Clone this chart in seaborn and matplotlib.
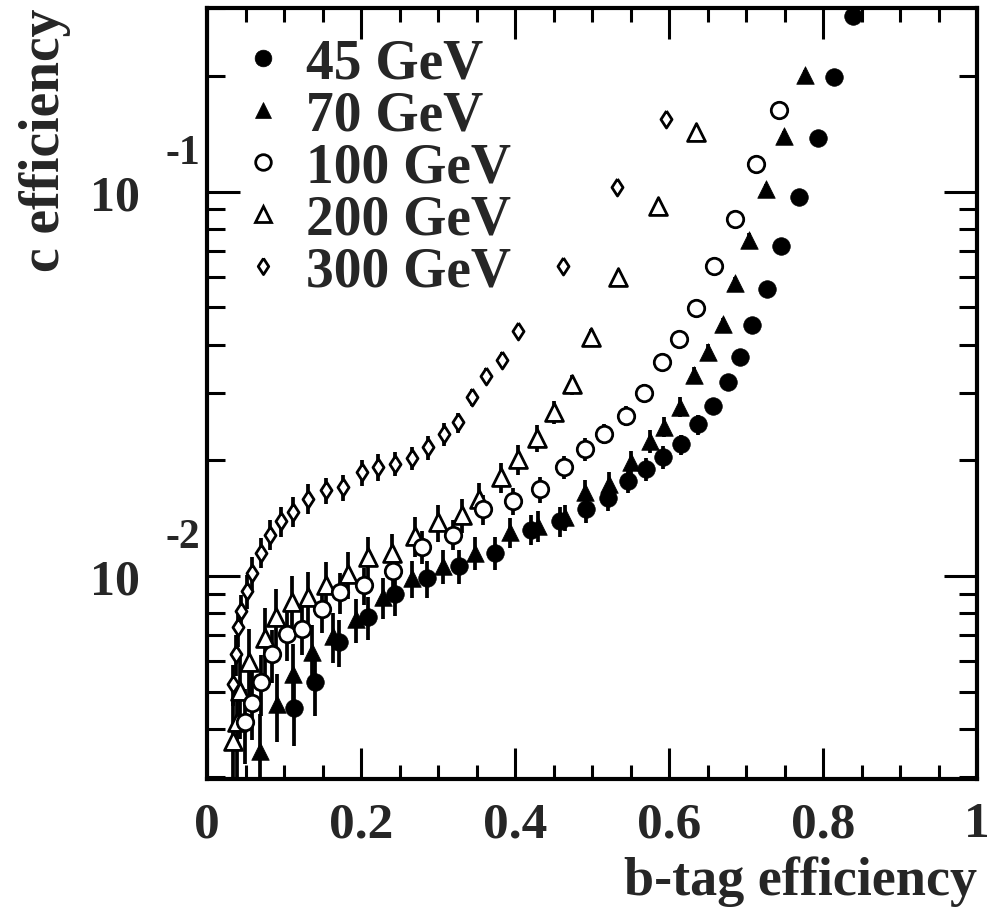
import matplotlib
matplotlib.use("Agg")
import matplotlib.pyplot as plt
import matplotlib.transforms as mtransforms
from matplotlib.lines import Line2D
from matplotlib.ticker import MultipleLocator, FixedLocator, LogLocator, NullFormatter
import numpy as np
import seaborn as sns

# 45 GeV - filled circles
x45 = [0.113, 0.140, 0.171, 0.209, 0.244, 0.286, 0.327, 0.374, 0.421, 0.458, 0.492, 0.521, 0.547,
       0.570, 0.592, 0.616, 0.638, 0.657, 0.677, 0.692, 0.708, 0.727, 0.745, 0.769, 0.794, 0.814, 0.839]
y45 = [0.00452, 0.00528, 0.00673, 0.00782, 0.00896, 0.00986, 0.0106, 0.0115, 0.0132, 0.0139, 0.0149,
       0.0160, 0.0177, 0.0190, 0.0204, 0.0220, 0.0248, 0.0277, 0.0319, 0.0371, 0.0449, 0.0558, 0.0722,
       0.0969, 0.138, 0.199, 0.287]
r45 = [0.20, 0.18, 0.14, 0.13, 0.12, 0.11, 0.10, 0.10, 0.09, 0.09, 0.08, 0.08, 0.07, 0.07, 0.07, 0.06,
       0.06, 0.05, 0.05, 0.05, 0.04, 0.04, 0.03, 0.03, 0.03, 0.03, 0.03]

# 70 GeV - filled triangles
x70 = [0.069, 0.091, 0.112, 0.136, 0.163, 0.194, 0.228, 0.266, 0.306, 0.348, 0.393, 0.430, 0.465,
       0.491, 0.522, 0.551, 0.575, 0.593, 0.614, 0.632, 0.651, 0.670, 0.686, 0.704, 0.726, 0.749, 0.777]
y70 = [0.00350, 0.00463, 0.00554, 0.00632, 0.00697, 0.00771, 0.00880, 0.00986, 0.0106, 0.0115, 0.0130,
       0.0135, 0.0142, 0.0165, 0.0173, 0.0198, 0.0224, 0.0244, 0.0275, 0.0333, 0.0382, 0.0452, 0.0578,
       0.075, 0.1016, 0.140, 0.201]
r70 = [0.25, 0.20, 0.20, 0.18, 0.15, 0.13, 0.12, 0.11, 0.10, 0.10, 0.09, 0.09, 0.08, 0.08, 0.08, 0.07,
       0.07, 0.06, 0.06, 0.05, 0.05, 0.04, 0.04, 0.04, 0.03, 0.03, 0.03]

# 100 GeV - open circles
x100 = [0.049, 0.058, 0.070, 0.084, 0.104, 0.124, 0.149, 0.173, 0.204, 0.241, 0.279, 0.320, 0.359,
        0.398, 0.432, 0.464, 0.491, 0.516, 0.544, 0.568, 0.591, 0.613, 0.635, 0.658, 0.686, 0.713, 0.743]
y100 = [0.00416, 0.00468, 0.00528, 0.00625, 0.00705, 0.00726, 0.00818, 0.00906, 0.00946, 0.0103, 0.0119,
        0.0128, 0.0149, 0.0157, 0.0168, 0.0192, 0.0214, 0.0234, 0.0261, 0.0300, 0.0360, 0.0414, 0.0497,
        0.0641, 0.0849, 0.118, 0.163]
r100 = [0.22, 0.20, 0.18, 0.16, 0.15, 0.14, 0.13, 0.12, 0.11, 0.10, 0.10, 0.09, 0.09, 0.08, 0.08, 0.07,
        0.07, 0.06, 0.06, 0.05, 0.05, 0.04, 0.04, 0.04, 0.03, 0.03, 0.03]

# 200 GeV - open triangles
x200 = [0.034, 0.039, 0.043, 0.055, 0.075, 0.089, 0.110, 0.131, 0.155, 0.183, 0.209, 0.240, 0.270,
        0.300, 0.331, 0.353, 0.382, 0.404, 0.428, 0.450, 0.474, 0.499, 0.534, 0.586, 0.635]
y200 = [0.00371, 0.00416, 0.00501, 0.00597, 0.00689, 0.00782, 0.00854, 0.00880, 0.00946, 0.0101, 0.0112,
        0.0115, 0.0127, 0.0138, 0.0144, 0.0159, 0.0181, 0.0201, 0.0229, 0.0267, 0.0315, 0.0418, 0.060,
        0.0918, 0.143]
r200 = [0.30, 0.28, 0.25, 0.22, 0.20, 0.18, 0.17, 0.16, 0.15, 0.14, 0.13, 0.12, 0.12, 0.11, 0.10, 0.10,
        0.09, 0.09, 0.08, 0.07, 0.06, 0.05, 0.04, 0.03, 0.03]

# 300 GeV - open diamonds
x300 = [0.034, 0.038, 0.040, 0.044, 0.052, 0.058, 0.070, 0.082, 0.096, 0.112, 0.131, 0.155, 0.177,
        0.201, 0.222, 0.244, 0.266, 0.287, 0.308, 0.326, 0.344, 0.362, 0.383, 0.404, 0.462, 0.532, 0.596]
y300 = [0.00522, 0.00625, 0.00735, 0.00810, 0.00912, 0.0102, 0.0115, 0.0128, 0.0139, 0.0147, 0.0159,
        0.0167, 0.0170, 0.0186, 0.0192, 0.0196, 0.0203, 0.0216, 0.0234, 0.0251, 0.0292, 0.0332, 0.0365,
        0.0434, 0.064, 0.103, 0.155]
r300 = [0.12, 0.12, 0.11, 0.10, 0.10, 0.10, 0.09, 0.09, 0.09, 0.09, 0.09, 0.08, 0.08, 0.08, 0.08, 0.07,
        0.07, 0.07, 0.07, 0.06, 0.05, 0.05, 0.05, 0.04, 0.03, 0.03, 0.03]

labels = ['45 GeV', '70 GeV', '100 GeV', '200 GeV', '300 GeV']
yticks = [0.01, 0.1]
xticks = [0, 0.2, 0.4, 0.6, 0.8, 1.0]
xticklabels = ['0', '0.2', '0.4', '0.6', '0.8', '1']

sns.set_theme(style="ticks")
plt.rcParams['font.family'] = ['Liberation Serif', 'DejaVu Serif']
plt.rcParams['font.weight'] = 'bold'

fig = plt.figure(figsize=(9.9, 9.12), dpi=100)
ax = fig.add_axes([0.2091, 0.1447, 0.7778, 0.8454])

# ROOT-like open diamond (wider than matplotlib's thin diamond)
diamond = [(0, 1), (0.65, 0), (0, -1), (-0.65, 0), (0, 1)]

# (x, y, rel err, marker, size, filled)
series = [
    (x300, y300, r300, diamond, 150, False),
    (x200, y200, r200, '^', 165, False),
    (x100, y100, r100, 'o', 140, False),
    (x70, y70, r70, '^', 160, True),
    (x45, y45, r45, 'o', 160, True),
]

for xs, ys, rs, m, s, filled in series:
    ys = np.array(ys)
    ax.errorbar(xs, ys, yerr=ys * np.array(rs), fmt='none', ecolor='black',
                elinewidth=2.7, capsize=0, zorder=2)

for xs, ys, rs, m, s, filled in series:
    if filled:
        sns.scatterplot(x=xs, y=ys, marker=m, s=s, color='black', edgecolor='black',
                        linewidth=0.5, ax=ax, zorder=3, legend=False)
    else:
        sns.scatterplot(x=xs, y=ys, marker=m, s=s, facecolor='white', edgecolor='black',
                        linewidth=2.0, ax=ax, zorder=3, legend=False)

ax.set_xlim(0, 1)
ax.set_yscale('log')
ax.set_ylim(0.00296, 0.3008)

ax.xaxis.set_major_locator(FixedLocator(xticks))
ax.xaxis.set_minor_locator(MultipleLocator(0.05))
ax.set_xticklabels(xticklabels)
ax.yaxis.set_major_locator(FixedLocator(yticks))
ax.yaxis.set_minor_locator(LogLocator(base=10, subs=np.arange(2, 10)))
ax.yaxis.set_minor_formatter(NullFormatter())
ax.set_yticklabels(['10'] * len(yticks))

ax.tick_params(which='both', direction='in', top=True, right=True, width=2.2, color='black')
ax.tick_params(axis='x', which='major', length=22, pad=16, labelsize=37)
ax.tick_params(axis='x', which='minor', length=10)
ax.tick_params(axis='y', which='major', length=24, pad=48, labelsize=36)
ax.tick_params(axis='y', which='minor', length=13)
for t in ax.get_xticklabels() + ax.get_yticklabels():
    t.set_fontweight('bold')

# ROOT style exponents next to the "10" labels
trans = mtransforms.blended_transform_factory(ax.transAxes, ax.transData)
for v in yticks:
    ax.annotate(str(int(round(np.log10(v)))), xy=(0, v), xycoords=trans,
                xytext=(-5, 28), textcoords='offset points', ha='right', va='center',
                fontsize=30, fontweight='bold', annotation_clip=False)

for sp in ax.spines.values():
    sp.set_linewidth(3)
    sp.set_color('black')

ax.set_xlabel('b-tag efficiency', loc='right', fontsize=39, fontweight='bold', labelpad=6)
ax.set_ylabel('c efficiency', loc='top', fontsize=40, fontweight='bold', labelpad=14)

handles = []
for xs, ys, rs, m, s, filled in series[::-1]:
    handles.append(Line2D([], [], linestyle='none', marker=m, markersize=np.sqrt(s) * 0.95,
                          markerfacecolor='black' if filled else 'white',
                          markeredgecolor='black', markeredgewidth=0.5 if filled else 2.0))
leg = ax.legend(handles, labels, loc='upper left', bbox_to_anchor=(0.036, 0.962), frameon=False,
                prop={'family': 'Liberation Serif', 'weight': 'bold', 'size': 40},
                handlelength=1.0, handletextpad=0.29, labelspacing=0.0, borderaxespad=0,
                borderpad=0)

fig.savefig('out.png', dpi=100)
